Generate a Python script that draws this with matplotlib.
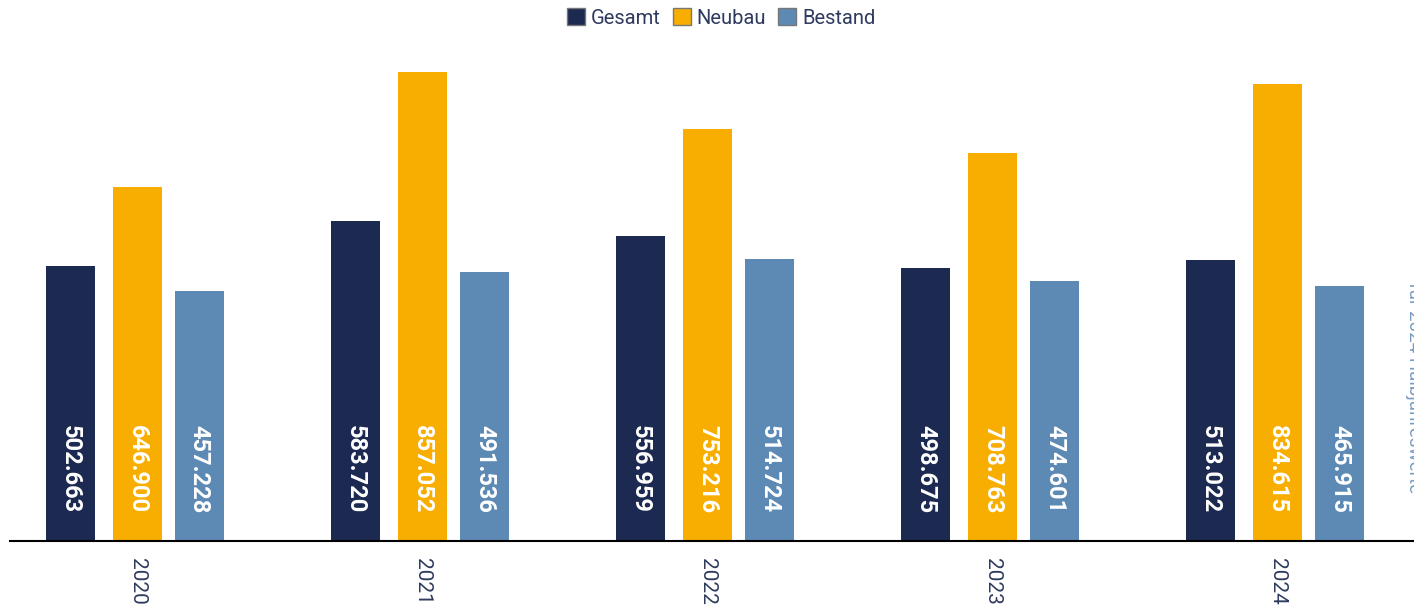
import numpy as np
import matplotlib.pyplot as plt
from matplotlib.patches import Patch

# Data
years = ["2020", "2021", "2022", "2023", "2024"]
gesamt = [502.663, 583.720, 556.959, 498.675, 513.022]
neubau = [646.900, 857.052, 753.216, 708.763, 834.615]
bestand = [457.228, 491.536, 514.724, 474.601, 465.915]

series = ["Gesamt", "Neubau", "Bestand"]
colors = ["#1c2951", "#f8ae00", "#5d89b5"]
text_col = "#2e3a5e"

plt.rcParams['font.family'] = ['Roboto', 'DejaVu Sans']

fig = plt.figure(figsize=(14.14, 6.05), dpi=100)
ax = fig.add_axes([0.00707, 0.1058, 0.99293, 0.828])

x = np.arange(len(years))
width = 0.172
offsets = [-0.235, 0.0, 0.2175]

for vals, off, col in zip([gesamt, neubau, bestand], offsets, colors):
    ax.bar(x + off, vals, width=width, color=col)
    for xi, v in zip(x, vals):
        label = f"{v:.3f}"
        ax.text(xi + off, 212, label, rotation=-90, ha='center', va='top',
                color='white', fontsize=17, fontweight='bold')

ax.set_xlim(-0.447, 4.479)
ax.set_ylim(0, 915)
ax.set_yticks([])
ax.set_xticks(x)
ax.set_xticklabels(years, rotation=-90, fontsize=15, color=text_col)
ax.tick_params(axis='x', length=0, pad=12)
for s in ['top', 'right', 'left']:
    ax.spines[s].set_visible(False)
ax.spines['bottom'].set_color('black')
ax.spines['bottom'].set_linewidth(1.5)

# Legend on top
handles = [Patch(facecolor=c, edgecolor='#777777', linewidth=1) for c in colors]
leg = fig.legend(handles, series, loc='center', bbox_to_anchor=(0.51, 0.97),
                 ncol=3, frameon=False, fontsize=14.5, handlelength=0.9,
                 handleheight=0.9, handletextpad=0.3, columnspacing=0.6)
for t in leg.get_texts():
    t.set_color(text_col)

# Note on the right edge
fig.text(0.9935, 0.359, "für 2024 Halbjahreswerte", rotation=270,
         ha='left', va='center', fontsize=13.5, color="#7a9cc4")

fig.savefig("out.png", dpi=100)
